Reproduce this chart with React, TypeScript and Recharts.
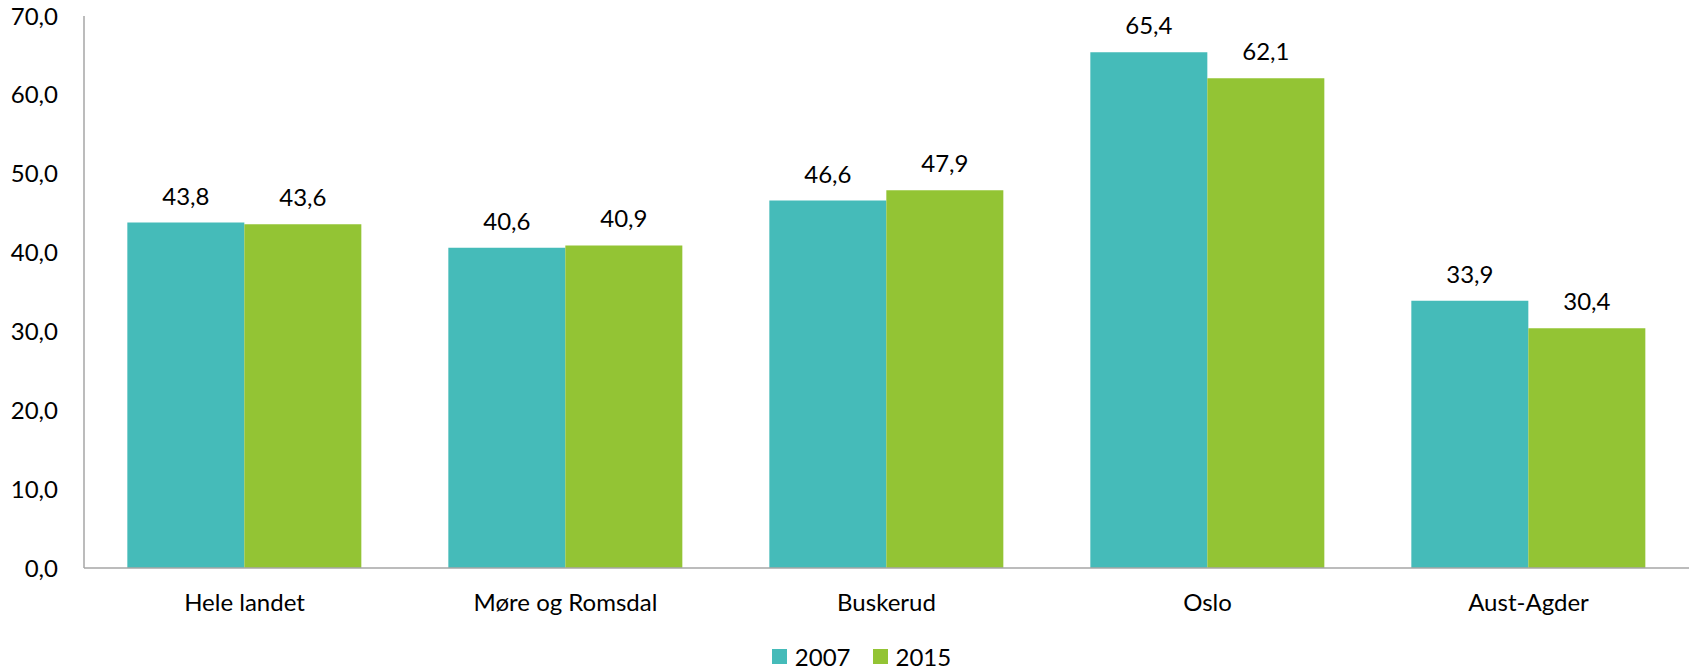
import { BarChart, Bar, XAxis, YAxis, Legend, LabelList } from 'recharts'

const regions = ['Hele landet', 'Møre og Romsdal', 'Buskerud', 'Oslo', 'Aust-Agder']
const values2007 = [43.8, 40.6, 46.6, 65.4, 33.9]
const values2015 = [43.6, 40.9, 47.9, 62.1, 30.4]
const yTicks = [0, 10, 20, 30, 40, 50, 60, 70]

const TEAL = '#45bbb9'
const GREEN = '#93c434'
const FONT = 'Lato, "Open Sans", sans-serif'
const FS = 24

const data = regions.map((name, i) => ({
  name,
  y2007: values2007[i],
  y2015: values2015[i],
}))

const fmt = (v: any) => Number(v).toFixed(1).replace('.', ',')

function LegendContent() {
  const items = [
    { label: '2007', color: TEAL },
    { label: '2015', color: GREEN },
  ]
  return (
    <div style={{ display: 'flex', justifyContent: 'center', gap: 22, paddingLeft: 34, fontFamily: FONT, fontSize: FS, lineHeight: '29px', height: 29, color: '#000' }}>
      {items.map((it) => (
        <div key={it.label} style={{ display: 'flex', alignItems: 'center', gap: 8 }}>
          <span style={{ width: 15, height: 15, background: it.color, display: 'inline-block' }} />
          <span>{it.label}</span>
        </div>
      ))}
    </div>
  )
}

export default function App() {
  return (
    <div style={{ position: 'absolute', left: 0, top: 0, background: '#fff' }}>
      <BarChart
        width={1694}
        height={671}
        data={data}
        margin={{ top: 16, right: 5, bottom: 0, left: 0 }}
        barCategoryGap="13.5%"
        barGap={0}
      >
        <YAxis
          width={84}
          domain={[0, 70]}
          ticks={yTicks}
          tickFormatter={fmt}
          tickLine={false}
          tickSize={0}
          tickMargin={26}
          axisLine={{ stroke: '#a6a6a6', strokeWidth: 1.5 }}
          tick={{ fill: '#000', fontSize: FS, fontFamily: FONT }}
          interval={0}
        />
        <XAxis
          dataKey="name"
          height={74}
          tickLine={false}
          tickSize={0}
          tickMargin={26}
          axisLine={{ stroke: '#a6a6a6', strokeWidth: 1.5 }}
          tick={{ fill: '#000', fontSize: FS, fontFamily: FONT }}
          interval={0}
        />
        <Legend verticalAlign="bottom" content={<LegendContent />} wrapperStyle={{ bottom: 0 }} />
        <Bar dataKey="y2007" name="2007" fill={TEAL} isAnimationActive={false}>
          <LabelList dataKey="y2007" position="top" offset={18} formatter={fmt} fill="#000" fontSize={FS} fontFamily={FONT} />
        </Bar>
        <Bar dataKey="y2015" name="2015" fill={GREEN} isAnimationActive={false}>
          <LabelList dataKey="y2015" position="top" offset={18} formatter={fmt} fill="#000" fontSize={FS} fontFamily={FONT} />
        </Bar>
      </BarChart>
    </div>
  )
}
